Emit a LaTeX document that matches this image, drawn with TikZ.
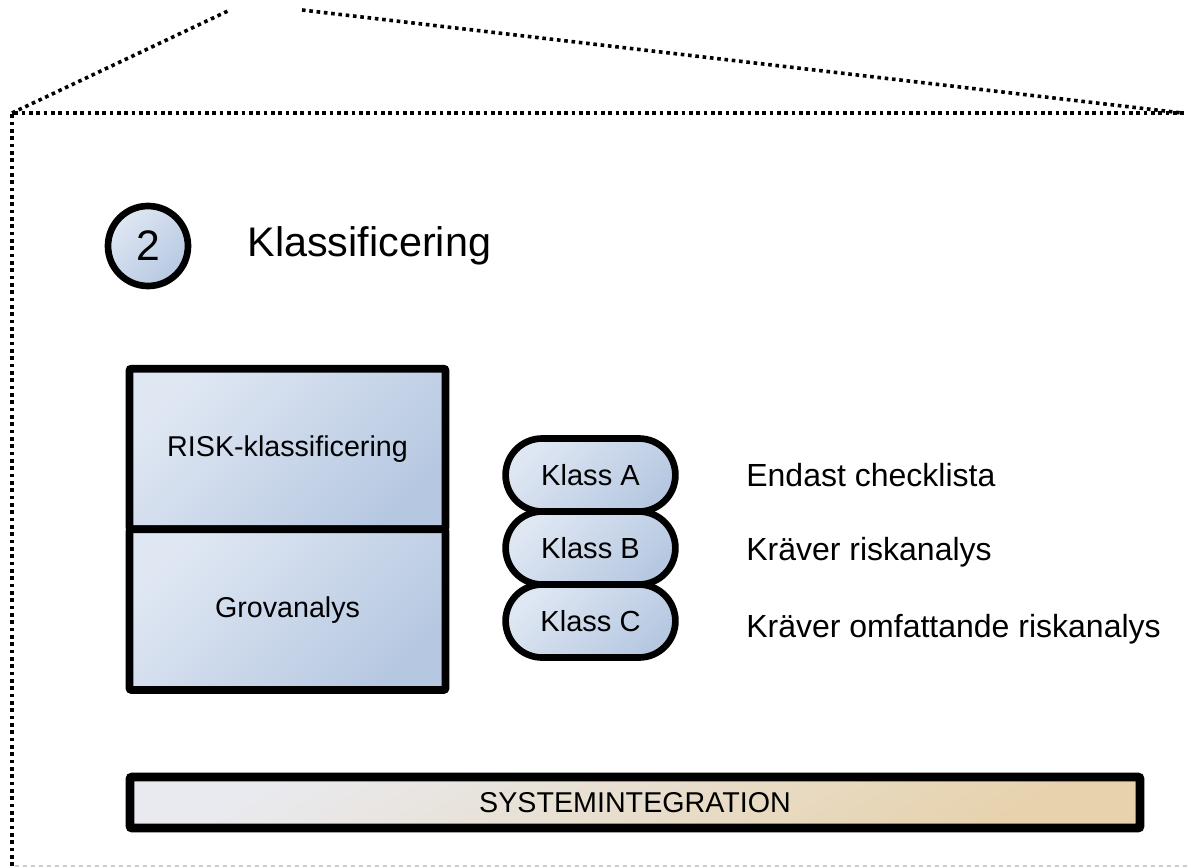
\documentclass[tikz,border=0pt]{standalone}
\usepackage{fontspec}
\setmainfont{Liberation Sans}
\usetikzlibrary{positioning, shapes.misc, calc}
\definecolor{blueLight}{HTML}{DFE7F3}
\definecolor{blueDark}{HTML}{B6C8E1}
\definecolor{sandLight}{HTML}{E9EAEF}
\definecolor{sandDark}{HTML}{E7D2AC}

\tikzset{
  frameline/.style={line width=2.7pt, dash pattern=on 2.7pt off 2.8pt},
  bluefill/.style={top color=blueLight, bottom color=blueDark, shading angle=45},
  phasebox/.style={draw, bluefill, line width=5.8pt, rounded corners=1.5pt, outer sep=0pt,
    minimum width=237pt, minimum height=120.5pt, font=\fontsize{21.5}{26}\selectfont},
  klassbox/.style={draw, bluefill, rounded rectangle, line width=5pt, outer sep=0pt,
    minimum width=134pt, minimum height=54.75pt, font=\fontsize{21.8}{26}\selectfont},
  klassnote/.style={inner sep=0pt, font=\fontsize{24}{29}\selectfont},
}

\begin{document}
\begin{tikzpicture}[x=0.75pt, y=-0.75pt]
  \useasboundingbox (0,0) rectangle (1187,867);

  % house outline
  \coordinate (corner) at (12,113);
  \coordinate (roofL) at (230,10);
  \coordinate (roofR) at (302,10);
  \coordinate (eaveR) at (1182,113);
  \draw[frameline] (corner) -- (roofL);
  \draw[frameline] (roofR) -- (eaveR);
  \draw[frameline] (12,866) -- (corner) -- (1187,113);
  \draw[gray!40, line width=1.2pt, dash pattern=on 3pt off 3pt] (15,866) -- (1187,866);

  % heading
  \node[draw, circle, bluefill, line width=5pt, minimum size=60pt, inner sep=0pt,
    font=\fontsize{32}{38}\selectfont] (step2) at (148,246) {2};
  \node[right=42pt of step2, inner sep=0pt, font=\fontsize{31}{37}\selectfont] (title) {Klassificering};

  % analysis stack
  \node[phasebox] (risk) at (287.5,449) {RISK-klassificering};
  \node[phasebox, below=0pt of risk] (grov) {Grovanalys};

  % classes
  \node[klassbox] (klassA) at (590.5,475) {Klass A};
  \node[klassbox, below=0pt of klassA] (klassB) {Klass B};
  \node[klassbox, below=0pt of klassB] (klassC) {Klass C};
  \node[klassnote, right=53pt of klassA] (noteA) {Endast checklista};
  \node[klassnote, anchor=west] (noteB) at ($(noteA.west)+(0,77)$) {Kräver riskanalys};
  \node[klassnote, anchor=west] (noteC) at ($(noteB.west)+(0,77)$) {Kräver omfattande riskanalys};

  % bottom bar
  \node[draw, line width=6.5pt, rounded corners=1.5pt, top color=sandLight, bottom color=sandDark,
    shading angle=30, minimum width=757.5pt, minimum height=38.25pt,
    font=\fontsize{21.5}{26}\selectfont] (sysint) at (635,802.5) {SYSTEMINTEGRATION};
\end{tikzpicture}
\end{document}
